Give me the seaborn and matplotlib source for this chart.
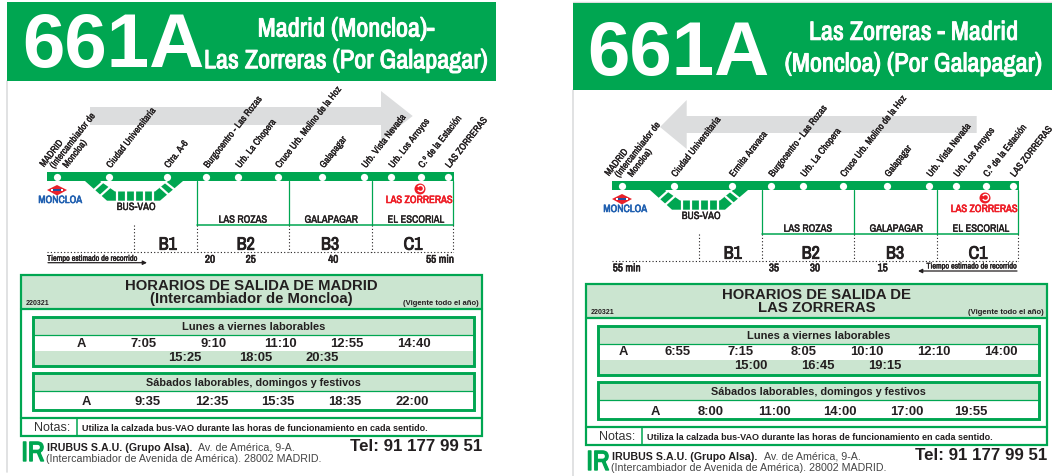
# -*- coding: utf-8 -*-
"""
Two bus timetable sheets for line 661A, drawn on one pixel-sized axes.
"""

#%% imports

import numpy as np
import matplotlib
matplotlib.use("Agg")
import matplotlib.pyplot as plt
import matplotlib.patheffects as pe
import seaborn as sns
from matplotlib.patches import Polygon, Rectangle, Circle, Arc

#%% data

stops_out = ['', 'Ciudad Universitaria', 'Ctra. A-6', 'Burgocentro - Las Rozas', 'Urb. La Chopera',
             'Cruce Urb. Molino de la Hoz', 'Galapagar', 'Urb. Vista Nevada', 'Urb. Los Arroyos',
             'C.º de la Estación', 'LAS ZORRERAS']
stops_back = ['', 'Ciudad Universitaria', 'Ermita Aravaca', 'Burgocentro - Las Rozas', 'Urb. La Chopera',
              'Cruce Urb. Molino de la Hoz', 'Galapagar', 'Urb. Vista Nevada', 'Urb. Los Arroyos',
              'C.º de la Estación', 'LAS ZORRERAS']
stop_pos = [57, 108.7, 166.7, 206, 238, 277.7, 322, 364, 391, 420.7, 447.7]

weekday_out_1 = ['A', '7:05', '9:10', '11:10', '12:55', '14:40']
weekday_out_2 = ['15:25', '18:05', '20:35']
weekend_out = ['A', '9:35', '12:35', '15:35', '18:35', '22:00']
weekday_back_1 = ['A', '6:55', '7:15', '8:05', '10:10', '12:10', '14:00']
weekday_back_2 = ['15:00', '16:45', '19:15']
weekend_back = ['A', '8:00', '11:00', '14:00', '17:00', '19:55']

weekday_out_1_x = [81.7, 143.3, 213.3, 280.7, 347.3, 414.3]
weekday_out_2_x = [185.3, 255.7, 322.3]
weekend_out_x = [86, 147.7, 211.7, 278.3, 345, 412]
weekday_back_1_x = [623.3, 678, 741, 804, 867.3, 934, 1000.7]
weekday_back_2_x = [751.3, 818.3, 885]
weekend_back_x = [655.7, 710.7, 774, 840.3, 907, 970.7]

minutes_out = ['20', '25', '40', '55 min']
minutes_out_x = [210, 250.7, 333.3, 440]
minutes_back = ['55 min', '35', '30', '15']
minutes_back_x = [626.7, 774, 815, 882.7]

zones = ['LAS ROZAS', 'GALAPAGAR', 'EL ESCORIAL']
zones_x = [242.7, 331, 415.7]
fares = ['B1', 'B2', 'B3', 'C1']
fares_x = [167.7, 245.7, 330, 413]

#%% style

sns.set_theme(style="white")
plt.rcParams['font.family'] = ['Liberation Sans', 'DejaVu Sans']

green = '#00A651'
pale = '#CBE5D0'
grey = '#DCDDDE'
ink = '#231F20'
narrow = ['Archivo Narrow', 'Liberation Sans']

fig = plt.figure(figsize=(10.52, 4.77), dpi=100)
ax = fig.add_axes([0, 0, 1, 1])
ax.set_xlim(0, 1052)
ax.set_ylim(477, 0)
ax.axis('off')


def box(x0, y0, x1, y1, fc='none', ec='none', lw=0, z=1):
    ax.add_patch(Rectangle((x0, y0), x1 - x0, y1 - y0, facecolor=fc, edgecolor=ec, linewidth=lw, zorder=z))


def txt(x, y, s, size, weight='normal', color=ink, ha='center', va='center', family=None, z=5, fat=0, **kw):
    t = ax.text(x, y, s, fontsize=size, fontweight=weight, color=color, ha=ha, va=va,
                family=family or plt.rcParams['font.family'], zorder=z, **kw)
    # the narrow face has no bold cut, thicken it with a stroke
    if fat:
        t.set_path_effects([pe.withStroke(linewidth=fat, foreground=color)])


def route_diagram(dx, dy, stops):
    # main line with the stops on it
    box(47.3 + dx, 173.3 + dy, 454 + dx, 182.3 + dy, fc=green, z=3)
    sns.scatterplot(x=np.array(stop_pos) + dx, y=np.full(len(stop_pos), 177.8 + dy), ax=ax,
                    color='white', s=27, linewidth=0, zorder=4, legend=False)

    label = dict(family=narrow, ha='left', rotation=52, rotation_mode='anchor', fat=0.2)
    for xs, name in zip(stop_pos, stops):
        if name:
            txt(xs + dx, 168 + dy, name, 7, **label)
    txt(42 + dx, 167 + dy, 'MADRID', 7, **label)
    txt(52 + dx, 168.5 + dy, '(Intercambiador de', 7, **label)
    txt(65 + dx, 168 + dy, 'Moncloa)', 7, **label)

    # bus-vao branch, dashes cut out in white
    vao = [(85, 182), (100, 182), (115, 192.5), (155, 192.5), (168, 182), (183, 182), (160, 201.7), (107, 201.7)]
    ax.add_patch(Polygon([(a + dx, b + dy) for a, b in vao], facecolor=green, edgecolor='none', zorder=2))
    for x0, y0, x1, y1 in [(94, 191, 104, 182), (100, 197, 110, 188), (117, 192, 117, 203), (126, 192, 126, 203),
                           (135, 192, 135, 203), (144, 192, 144, 203), (153, 192, 153, 203),
                           (160, 188, 170, 197), (165, 183, 175, 191)]:
        ax.plot([x0 + dx, x1 + dx], [y0 + dy, y1 + dy], color='white', lw=1.6, zorder=2.5, solid_capstyle='butt')

    # zone frames
    for xv in [197.3, 289.3, 371.7, 453.3]:
        ax.plot([xv + dx] * 2, [182 + dy, 226 + dy], color=green, lw=0.9, zorder=2)
        ax.plot([xv + dx] * 2, [226 + dy, 253 + dy], color=ink, lw=0.8, ls=(0, (1, 2)), zorder=2)
    ax.plot([197.3 + dx, 453.3 + dx], [226 + dy] * 2, color=green, lw=1.1, zorder=2)
    ax.plot([134.3 + dx] * 2, [226 + dy, 253 + dy], color=ink, lw=0.8, ls=(0, (1, 2)), zorder=2)
    ax.plot([47 + dx, 453.3 + dx], [252.7 + dy] * 2, color=ink, lw=0.8, ls=(0, (1, 2)), zorder=2)

    for xs, name in zip(zones_x, zones):
        txt(xs + dx, 220.7 + dy, name, 7.6, family=narrow, fat=0.25)
    for xs, name in zip(fares_x, fares):
        txt(xs + dx, 245.7 + dy, name, 13, family=narrow, fat=0.6)

    # metro and terminus marks
    ax.add_patch(Polygon([(47 + dx, 191 + dy), (57 + dx, 186 + dy), (67 + dx, 191 + dy), (57 + dx, 196.5 + dy)],
                         facecolor='#E8212B', edgecolor='none', zorder=3))
    box(51 + dx, 189.8 + dy, 63 + dx, 192.4 + dy, fc='white', z=3.5)
    box(53 + dx, 190.2 + dy, 61 + dx, 192 + dy, fc='#1F4FA3', z=4)
    txt(60 + dx, 201 + dy, 'MONCLOA', 7.6, family=narrow, fat=0.4, color='#1F5FB0')
    txt(136 + dx, 208 + dy, 'BUS-VAO', 7.6, family=narrow, fat=0.25)
    txt(419 + dx, 201 + dy, 'LAS ZORRERAS', 7.6, family=narrow, fat=0.4, color='#EE1C25')
    ax.add_patch(Circle((420 + dx, 190 + dy), 5.5, facecolor='#EE1C25', edgecolor='none', zorder=3))
    ax.add_patch(Arc((420.5 + dx, 189.5 + dy), 6, 6, theta1=-150, theta2=150, edgecolor='white', linewidth=1, zorder=4))


def schedule(dx, dy, title_1, title_2):
    # outer frame with title band and notes row
    box(20 + dx, 275 + dy, 482.5 + dx, 310 + dy, fc=pale, z=1)
    box(21 + dx, 275.5 + dy, 481.5 + dx, 436.5 + dy, ec=green, lw=1.6, z=2)
    ax.plot([21 + dx, 481.5 + dx], [310 + dy] * 2, color=green, lw=1.6, zorder=2)
    ax.plot([21 + dx, 481.5 + dx], [419 + dy] * 2, color=green, lw=1.6, zorder=2)
    ax.plot([76.7 + dx] * 2, [419 + dy, 436.5 + dy], color=green, lw=1.1, zorder=2)
    txt(251.7 + dx, 286 + dy, title_1, 10.7, weight='bold')
    txt(251.7 + dx, 299.3 + dy, title_2, 10.7, weight='bold')
    txt(26 + dx, 304 + dy, '220321', 5, weight='bold', ha='left')
    txt(478.5 + dx, 303.6 + dy, '(Vigente todo el año)', 5.5, weight='bold', ha='right')

    # weekday block
    box(32 + dx, 318 + dy, 474 + dx, 336 + dy, fc=pale, z=1)
    box(32 + dx, 352 + dy, 474 + dx, 367 + dy, fc=pale, z=1)
    box(32.5 + dx, 318 + dy, 474 + dx, 367.3 + dy, ec=green, lw=2.1, z=2)
    ax.plot([32.5 + dx, 474 + dx], [336 + dy] * 2, color=green, lw=0.9, zorder=2)
    txt(253.7 + dx, 326.7 + dy, 'Lunes a viernes laborables', 8, weight='bold')

    # weekend block
    box(32 + dx, 374 + dy, 474 + dx, 391.7 + dy, fc=pale, z=1)
    box(32.5 + dx, 374 + dy, 474 + dx, 411 + dy, ec=green, lw=2.1, z=2)
    ax.plot([32.5 + dx, 474 + dx], [391.7 + dy] * 2, color=green, lw=0.9, zorder=2)
    txt(253.7 + dx, 383.3 + dy, 'Sábados laborables, domingos y festivos', 7.85, weight='bold')

    txt(51.7 + dx, 428 + dy, 'Notas:', 9, color='#333333')
    txt(81.7 + dx, 429 + dy, 'Utiliza la calzada bus-VAO durante las horas de funcionamiento en cada sentido.', 6.5,
        weight='bold', ha='left')

    # footer
    txt(21.5 + dx, 454.5 + dy, 'IR', 20, family=narrow, color=green, ha='left', fat=1)
    txt(46.7 + dx, 447.7 + dy, 'IRUBUS S.A.U. (Grupo Alsa).', 7.7, weight='bold', ha='left')
    txt(198.5 + dx, 447.7 + dy, 'Av. de América, 9-A.', 7.7, ha='left', color='#444444')
    txt(46 + dx, 459.3 + dy, '(Intercambiador de Avenida de América). 28002 MADRID.', 7.7, ha='left', color='#444444')
    txt(482.3 + dx, 446.7 + dy, 'Tel: 91 177 99 51', 12.2, weight='bold', ha='right')


def times(xs, y, labels):
    for xv, label in zip(xs, labels):
        txt(xv, y, label, 9.4, weight='bold')


#%% left sheet

box(7.3, 2.7, 495.7, 82.3, fc=green)
txt(22, 48, '661A', 55, weight='bold', color='white', ha='left')
txt(346, 30, 'Madrid (Moncloa)-', 19, family=narrow, color='white', fat=0.7)
txt(346, 61.7, 'Las Zorreras (Por Galapagar)', 19, family=narrow, color='white', fat=0.7)
ax.plot([7.3, 7.3], [82, 473], color=grey, lw=1.2, zorder=0)
ax.add_patch(Polygon([(90, 108), (381, 108), (381, 92), (412.7, 117), (381, 141.7), (381, 126), (90, 126)],
                     facecolor=grey, edgecolor='none', zorder=0))
route_diagram(0, 0, stops_out)
schedule(0, 0, 'HORARIOS DE SALIDA DE MADRID', '(Intercambiador de Moncloa)')
times(weekday_out_1_x, 344, weekday_out_1)
times(weekday_out_2_x, 358.3, weekday_out_2)
times(weekend_out_x, 401.7, weekend_out)

for xs, label in zip(minutes_out_x, minutes_out):
    txt(xs, 260.7, label, 8, family=narrow, fat=0.4)
txt(47, 259.3, 'Tiempo estimado de recorrido', 5.9, family=narrow, fat=0.25, ha='left')
ax.annotate('', xy=(147, 263.7), xytext=(48, 263.7), zorder=4,
            arrowprops=dict(arrowstyle='-|>', color=ink, lw=0.9, mutation_scale=6, shrinkA=0, shrinkB=0))

#%% right sheet

box(572.5, 3.5, 1052, 91, fc=green)
txt(587, 56, '661A', 55, weight='bold', color='white', ha='left')
txt(913.5, 33.3, 'Las Zorreras - Madrid', 19, family=narrow, color='white', fat=0.7)
txt(913.5, 65, '(Moncloa) (Por Galapagar)', 19, family=narrow, color='white', fat=0.7)
ax.plot([572.7, 572.7], [91, 477], color=grey, lw=1.2, zorder=0)
ax.plot([572.7, 1052], [3, 3], color=grey, lw=1, zorder=0)
ax.add_patch(Polygon([(976.7, 117), (686.7, 117), (686.7, 101), (660, 128), (686.7, 150), (686.7, 134), (976.7, 134)],
                     facecolor=grey, edgecolor='none', zorder=0))
route_diagram(565, 9, stops_back)
schedule(565, 9, 'HORARIOS DE SALIDA DE', 'LAS ZORRERAS')
times(weekday_back_1_x, 352.3, weekday_back_1)
times(weekday_back_2_x, 366.3, weekday_back_2)
times(weekend_back_x, 411.7, weekend_back)

for xs, label in zip(minutes_back_x, minutes_back):
    txt(xs, 269.3, label, 8, family=narrow, fat=0.4)
txt(1017, 267, 'Tiempo estimado de recorrido', 5.9, family=narrow, fat=0.25, ha='right')
ax.annotate('', xy=(918, 272), xytext=(1017, 272), zorder=4,
            arrowprops=dict(arrowstyle='-|>', color=ink, lw=0.9, mutation_scale=6, shrinkA=0, shrinkB=0))

fig.savefig('out.png', dpi=100)
